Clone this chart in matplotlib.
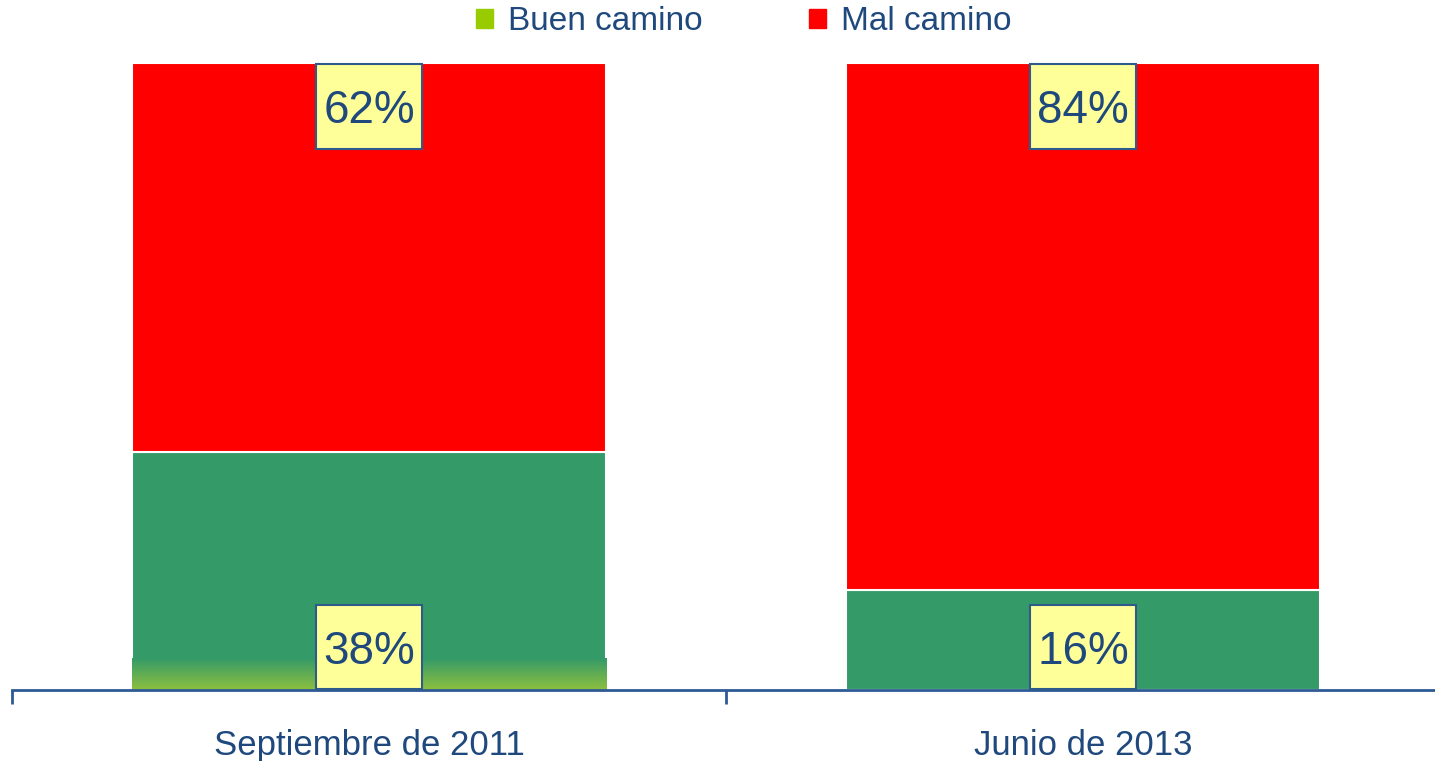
import numpy as np
import matplotlib.pyplot as plt
from matplotlib.patches import Patch
from matplotlib.path import Path
from matplotlib.colors import LinearSegmentedColormap

plt.rcParams['font.family'] = ['Liberation Sans', 'DejaVu Sans']

# data
periodos = ['Septiembre de 2011', 'Junio de 2013']
buen_camino = [38, 16]
mal_camino = [62, 84]

verde = '#349A68'
verde_claro = '#99CC00'
rojo = '#FF0000'
azul = '#1F497D'

fig = plt.figure(figsize=(14.35, 7.61), dpi=100)
ax = fig.add_axes([12/1435, 71/761, 1428/1435, 627/761])

x = np.arange(len(periodos))
ancho = 0.665
b1 = ax.bar(x, buen_camino, ancho, color=verde, edgecolor='white', linewidth=1.5)
b2 = ax.bar(x, mal_camino, ancho, bottom=buen_camino, color=rojo,
            edgecolor='white', linewidth=1.5)

# soft fade to light green at the base of the first bar
p = b1.patches[0]
x0, y0 = p.get_x(), p.get_y()
grad = np.linspace(1, 0, 100).reshape(-1, 1)
cmap = LinearSegmentedColormap.from_list('g', [verde, '#8DC03F'])
im = ax.imshow(grad, extent=[x0, x0 + p.get_width(), y0, y0 + 5.0],
               aspect='auto', cmap=cmap, zorder=p.get_zorder() + 0.1,
               origin='lower', interpolation='bilinear')
im.set_clip_path(p)


# label box: narrow side padding, more room above than below the text
def caja_estilo(x0, y0, width, height, mutation_size):
    px = 0.15 * mutation_size
    p_abajo = 0.33 * mutation_size
    p_arriba = 0.55 * mutation_size
    a, b = x0 - px, y0 - p_abajo
    c, d = x0 + width + px, y0 + height + p_arriba
    return Path([(a, b), (c, b), (c, d), (a, d), (a, b)], closed=True)


caja = dict(boxstyle=caja_estilo, fc='#FFFF99', ec='#2E5A8C', lw=1.5)
for i in range(len(periodos)):
    ax.annotate(f'{buen_camino[i]}%', xy=(x[i], 0), xytext=(0, 11.7),
                textcoords='offset points', ha='center', va='bottom',
                fontsize=33, color=azul, bbox=caja, zorder=5)
    ax.annotate(f'{mal_camino[i]}%', xy=(x[i], 100), xytext=(0, -19),
                textcoords='offset points', ha='center', va='top',
                fontsize=33, color=azul, bbox=caja, zorder=5)

ax.set_xlim(-0.5, 1.5)
ax.set_ylim(0, 100)
ax.set_yticks([])
for s in ['top', 'right', 'left']:
    ax.spines[s].set_visible(False)
ax.spines['bottom'].set_color('#2E5A95')
ax.spines['bottom'].set_linewidth(2)
ax.set_xticks(x)
ax.set_xticklabels(periodos, fontsize=25, color=azul)
ax.tick_params(axis='x', which='major', length=0, pad=28)
ax.set_xticks([-0.5, 0.5, 1.5], minor=True)
ax.tick_params(axis='x', which='minor', length=10, width=2, color='#2E5A95')

handles = [Patch(color=verde_claro, label='Buen camino'),
           Patch(color=rojo, label='Mal camino')]
fig.legend(handles=handles, loc='center', bbox_to_anchor=(744/1435, 1 - 22/761),
           ncol=2, frameon=False, fontsize=24, labelcolor=azul,
           handlelength=0.5, handleheight=0.5, handletextpad=0.45,
           columnspacing=3.2)

fig.savefig('out.png', dpi=100)
